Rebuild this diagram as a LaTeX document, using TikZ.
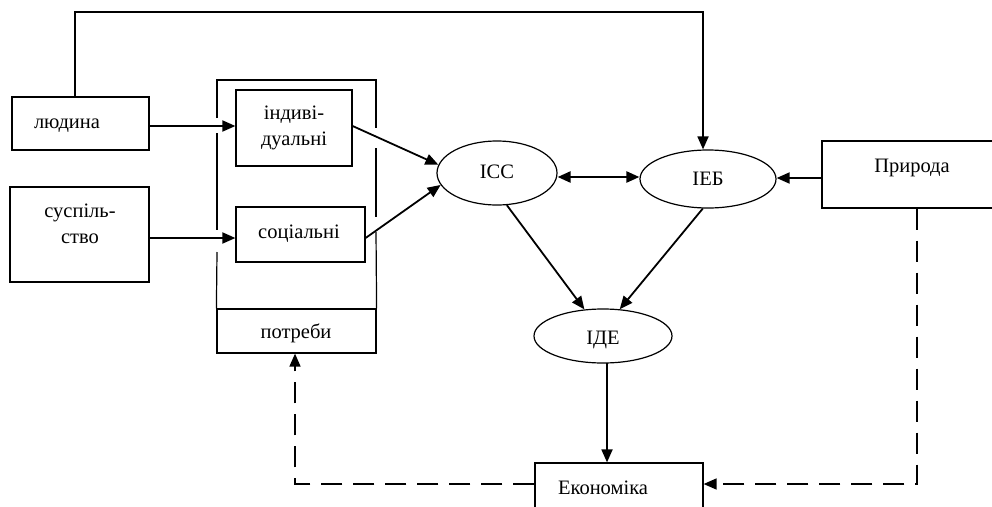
\documentclass[tikz,border=0pt]{standalone}
\usepackage{fontspec}
\setmainfont{Liberation Serif}
\usetikzlibrary{arrows.meta,shapes.geometric}
\begin{document}
\begin{tikzpicture}[x=1pt,y=-1pt,
  box/.style={draw,line width=1.2pt,rectangle,inner sep=0pt},
  oval/.style={draw,line width=1.2pt,ellipse,inner sep=0pt},
  txt/.style={inner sep=0pt,anchor=base,font=\fontsize{20.5}{24}\selectfont},
  arr/.style={line width=1.8pt,-{Triangle[length=13pt,width=11pt]}},
  darr/.style={line width=2.4pt,{Triangle[length=13pt,width=11pt]}-{Triangle[length=13pt,width=11pt]}},
  dsh/.style={line width=1.5pt,dash pattern=on 21pt off 11pt,-{Triangle[length=13pt,width=11pt]}},
  fr/.style={line width=1.2pt}]
\useasboundingbox (0,0) rectangle (992,506);
\clip (0,0) rectangle (992,506);
% boxes
\node[box,minimum width=137pt,minimum height=53pt] (lud) at (80.5,123.5) {};
\node[box,minimum width=139pt,minimum height=95pt] (sus) at (79.5,234.5) {};
\node[box,minimum width=116pt,minimum height=76pt] (ind) at (294,128) {};
\node[box,minimum width=129pt,minimum height=55pt] (soc) at (300.5,234.5) {};
\node[box,minimum width=159pt,minimum height=44pt] (potr) at (296.5,331) {};
\node[box,minimum width=180pt,minimum height=67pt] (pri) at (912,174.5) {};
\node[box,minimum width=168pt,minimum height=60pt] (eco) at (619,493) {};
% ellipses
\node[oval,minimum width=120pt,minimum height=64pt] (icc) at (497,173) {};
\node[oval,minimum width=136pt,minimum height=58pt] (ieb) at (708,179) {};
\node[oval,minimum width=138pt,minimum height=54pt] (ide) at (603,336) {};
% frame of potreby
\draw[fr] (217,118) -- (217,80) -- (376,80) -- (376,128);
\draw[fr] (217,133) -- (217,230);
\draw[fr] (217,252) -- (potr.north west);
\draw[fr] (376,148) -- (376,217);
\draw[fr] (376,232) -- (potr.north east);
% texts
\node[txt] (tlud) at (67,128) {людина};
\node[txt] (tsus1) at (80,217) {суспіль-};
\node[txt] (tsus2) at (80,243) {ство};
\node[txt] (tind1) at (294,119) {індиві-};
\node[txt] (tind2) at (294,145) {дуальні};
\node[txt] (tsoc) at (299,238) {соціальні};
\node[txt] (tpotr) at (296,338) {потреби};
\node[txt] (ticc) at (497,178) {ІСС};
\node[txt] (tieb) at (708,185) {ІЕБ};
\node[txt] (tide) at (603,344) {ІДЕ};
\node[txt] (teco) at (603,494) {Економіка};
\node[txt] (tpri) at (912,172) {Природа};
% connectors
\coordinate (tl) at (75,12);
\coordinate (tr) at (703,12);
\draw[arr] (tl |- lud.north) -- (tl) -- (tr) -- (tr |- ieb.north);
\draw[arr] (lud.east |- 0,126) -- (ind.west |- 0,126);
\draw[arr] (sus.east |- 0,238) -- (soc.west |- 0,238);
\draw[arr] (ind.east |- 0,126) -- (icc.172);
\draw[arr] (soc.east |- 0,238) -- (icc.192);
\draw[darr] (icc.east |- 0,177) -- (ieb.west |- 0,177);
\draw[arr] (pri.west |- 0,178) -- (ieb.east |- 0,178);
\draw[arr] (icc.-73) -- (ide.125);
\draw[arr] (ieb.-100) -- (ide.58);
\draw[arr] (607,363) -- (eco.north -| 607,0);
\coordinate (dr) at (917,484);
\coordinate (dl) at (295,484);
\draw[dsh] (dr |- pri.south) -- (dr) -- (dr -| eco.east);
\draw[dsh] (dl -| eco.west) -- (dl) -- (dl |- potr.south);
\end{tikzpicture}
\end{document}
